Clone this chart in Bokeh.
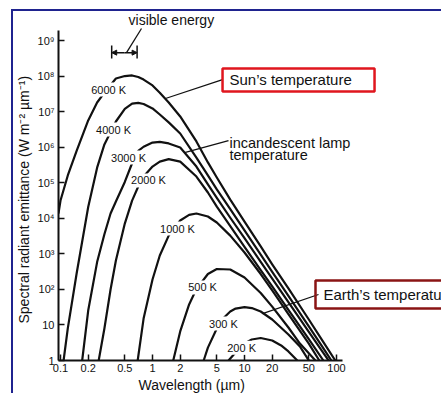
from bokeh.embed import file_html
from bokeh.models import Arrow, FixedTicker, Label, NormalHead, Range1d, Title
from bokeh.plotting import figure
from bokeh.resources import INLINE

# Blackbody spectra: wavelength (µm) and spectral radiant emittance (W m^-2 µm^-1)
wl_6000 = [0.095, 0.1, 0.12, 0.15, 0.2, 0.25, 0.3, 0.4, 0.5, 0.6, 0.7, 0.8, 1, 1.2, 1.5,
           2, 3, 4, 5, 7, 10, 15, 20, 30, 50, 70, 97]
em_6000 = [1.38e4, 3.2e4, 1.63e5, 8.2e5, 5.8e6, 1.85e7, 3.5e7, 8.8e7, 1.03e8, 1.07e8, 9.7e7,
           8.2e7, 5.6e7, 3.5e7, 1.85e7, 7.5e6, 1.48e6, 3.8e5, 1.43e5, 3.4e4, 8.2e3, 1.63e3,
           510, 107, 14.3, 3.7, 1.0]

wl_4000 = [0.108, 0.12, 0.15, 0.2, 0.25, 0.3, 0.4, 0.5, 0.6, 0.7, 0.8, 1, 1.2, 1.5, 2, 3, 4,
           5, 7, 10, 15, 20, 30, 50, 70, 88]
em_4000 = [1.0, 8.0, 292, 2.1e4, 2.7e5, 1.22e6, 5.4e6, 1.22e7, 1.73e7, 1.8e7, 1.68e7, 1.26e7,
           8.5e6, 5.1e6, 2.48e6, 5.2e5, 1.63e5, 6.6e4, 1.83e4, 4.6e3, 962, 315, 66, 9.1, 2.45,
           1.0]

wl_3000 = [0.172, 0.2, 0.25, 0.3, 0.35, 0.4, 0.5, 0.6, 0.7, 0.8, 1, 1.2, 1.5, 2, 3, 4, 5, 7,
           10, 15, 20, 30, 50, 70, 82]
em_3000 = [1.0, 25.6, 592, 3.6e3, 1.38e4, 3.0e4, 1.07e5, 3.6e5, 8.0e5, 1.05e6, 1.38e6, 1.44e6,
           1.30e6, 1.0e6, 2.9e5, 9.1e4, 3.8e4, 1.05e4, 2.8e3, 599, 203, 44, 6.4, 1.8, 1.0]

wl_2000 = [0.26, 0.3, 0.35, 0.4, 0.5, 0.6, 0.7, 0.8, 1, 1.2, 1.5, 2, 3, 4, 5, 7, 10, 15, 20,
           30, 50, 72]
em_2000 = [1.0, 8.0, 100, 656, 7.2e3, 3.2e4, 8.0e4, 1.52e5, 2.9e5, 4.0e5, 4.7e5, 4.0e5, 1.52e5,
           5.4e4, 2.15e4, 6.1e3, 1.6e3, 354, 122, 26.6, 4.0, 1.0]

wl_1000 = [0.69, 0.8, 1, 1.2, 1.5, 2, 2.5, 3, 4, 5, 7, 10, 15, 20, 30, 50, 65]
em_1000 = [1.0, 15.2, 191, 907, 3.3e3, 8.8e3, 1.26e4, 1.38e4, 1.14e4, 7.7e3, 3.3e3, 1.1e3, 273,
           94, 20.4, 3.0, 1.0]

wl_500 = [1.68, 2, 2.5, 3, 4, 5, 7, 10, 15, 20, 30, 40, 59]
em_500 = [1.0, 6.6, 38, 103, 273, 378, 366, 218, 80, 33, 8.5, 3.0, 1.0]

wl_300 = [3.6, 4, 5, 6, 7, 8, 10, 12, 15, 20, 30, 40, 50]
em_300 = [1.0, 2.3, 8.0, 16.3, 24, 29, 32, 30, 24, 14.3, 5.4, 2.5, 1.0]

wl_200 = [6.7, 8, 10, 12, 15, 20, 25, 30, 37.5]
em_200 = [1.0, 1.68, 3.0, 3.9, 4.3, 3.66, 2.65, 1.8, 1.0]

temp_labels = ["6000 K", "4000 K", "3000 K", "2000 K", "1000 K", "500 K", "300 K", "200 K"]
curves = [(wl_6000, em_6000), (wl_4000, em_4000), (wl_3000, em_3000), (wl_2000, em_2000),
          (wl_1000, em_1000), (wl_500, em_500), (wl_300, em_300), (wl_200, em_200)]

# where each temperature tag sits on its curve (wavelength, emittance)
tag_pos = [(0.333, 4.3e7), (0.377, 3.2e6), (0.549, 5.2e5), (0.905, 1.18e5),
           (1.87, 5.2e3), (3.5, 114), (5.9, 11), (9.3, 2.3)]

x_ticks = [0.1, 0.2, 0.5, 1, 2, 5, 10, 20, 50, 100]
x_tick_labels = ["0.1", "0.2", "0.5", "1", "2", "5", "10", "20", "50", "100"]
y_ticks = [1, 10, 1e2, 1e3, 1e4, 1e5, 1e6, 1e7, 1e8, 1e9]
y_tick_labels = ["1", "10", "10²", "10³", "10⁴", "10⁵", "10⁶", "10⁷", "10⁸", "10⁹"]

visible_band = [0.36, 0.68]

FONT = "Liberation Sans"
INK = "#111111"
FRAME_BLUE = "#1f238f"

p = figure(width=441, height=393, x_axis_type="log", y_axis_type="log",
           x_range=Range1d(0.0951, 1384), y_range=Range1d(1, 1.383e10),
           output_backend="svg", toolbar_location=None,
           min_border_left=58, min_border_right=0, min_border_top=0, min_border_bottom=33)
# transparent fills so the page frame drawn behind the canvas shows through
p.background_fill_color = None
p.border_fill_color = None
p.outline_line_color = None
p.xgrid.visible = False
p.ygrid.visible = False
p.styles = {
    "background-color": "white",
    "background-image": (f"linear-gradient({FRAME_BLUE}, {FRAME_BLUE}), "
                         f"linear-gradient({FRAME_BLUE}, {FRAME_BLUE})"),
    "background-repeat": "no-repeat, no-repeat",
    "background-position": "11px 9px, 11px 9px",
    "background-size": "2px 400px, 440px 2px",
}

for ax, ticks, labels, bounds in ((p.xaxis[0], x_ticks, x_tick_labels, (0.0951, 115)),
                                  (p.yaxis[0], y_ticks, y_tick_labels, (1, 2.0e9))):
    ax.ticker = FixedTicker(ticks=ticks)
    ax.major_label_overrides = dict(zip(ticks, labels))
    ax.bounds = bounds
    ax.axis_line_width = 2
    ax.axis_line_color = INK
    ax.major_tick_in = 6
    ax.major_tick_out = 0
    ax.major_tick_line_width = 1.5
    ax.major_tick_line_color = INK
    ax.minor_tick_line_color = None
    ax.major_label_text_font = FONT
    ax.major_label_text_font_size = "11px"
    ax.major_label_text_color = INK

p.xaxis.major_label_standoff = 3
p.yaxis.major_label_standoff = 4

# axis titles, anchored at the start of each axis
p.add_layout(Title(text="Wavelength (µm)", align="left", offset=80, standoff=0,
                   text_font=FONT, text_font_size="14px", text_font_style="normal",
                   text_color=INK), "below")
p.add_layout(Title(text="Spectral radiant emittance (W m⁻² µm⁻¹)", align="left", offset=37,
                   standoff=6, text_font=FONT, text_font_size="14px",
                   text_font_style="normal", text_color=INK), "left")

for wl, em in curves:
    p.line(wl, em, line_color=INK, line_width=2.2, line_join="round")

for text, (x, y) in zip(temp_labels, tag_pos):
    p.add_layout(Label(x=x, y=y, text=text, text_align="center", text_baseline="middle",
                       text_font=FONT, text_font_size="11px", text_color=INK,
                       background_fill_color="white", padding=1))

# visible-light bracket
vis_y = 4.7e8
p.segment(x0=visible_band, y0=[3.2e8, 3.2e8], x1=visible_band, y1=[7.5e8, 7.5e8],
          line_color=INK, line_width=1.5)
vis_mid = (visible_band[0] * visible_band[1]) ** 0.5
for end in visible_band:
    p.add_layout(Arrow(end=NormalHead(size=5, line_color=INK, fill_color=INK, line_width=1),
                       x_start=vis_mid, y_start=vis_y, x_end=end, y_end=vis_y,
                       line_color=INK, line_width=1.5))
p.line([0.522, 0.759], [4.7e8, 2.25e9], line_color=INK, line_width=1.3)
p.add_layout(Label(x=0.549, y=3.9e9, text="visible energy", text_baseline="middle",
                   text_font=FONT, text_font_size="14px", text_color=INK))

# leader lines
p.line([1.384, 5.77], [2.4e7, 8.2e7], line_color=INK, line_width=1.3)
p.line([2.23, 6.7], [7.2e5, 1.57e6], line_color=INK, line_width=1.3)
p.line([15.7, 63.7], [21, 72.3], line_color=INK, line_width=1.3)

# callout boxes
p.quad(left=[5.77], right=[259], bottom=[3.78e7], top=[1.68e8],
       fill_color=None, line_color="#e0161e", line_width=2.5)
p.quad(left=[59.1], right=[2863], bottom=[29.2], top=[179],
       fill_color=None, line_color="#8a1414", line_width=2.5)

p.add_layout(Label(x=6.87, y=7.97e7, text="Sun’s temperature", text_baseline="middle",
                   text_font=FONT, text_font_size="15px", text_color=INK))
p.add_layout(Label(x=6.87, y=1.32e6, text="incandescent lamp", text_baseline="middle",
                   text_font=FONT, text_font_size="14.5px", text_color=INK))
p.add_layout(Label(x=6.87, y=6.2e5, text="temperature", text_baseline="middle",
                   text_font=FONT, text_font_size="14.5px", text_color=INK))
p.add_layout(Label(x=72.2, y=72.3, text="Earth’s temperature", text_baseline="middle",
                   text_font=FONT, text_font_size="15px", text_color=INK))

open("out.html", "w").write(file_html(p, INLINE))
